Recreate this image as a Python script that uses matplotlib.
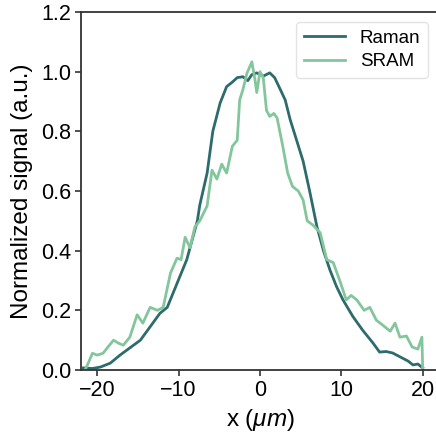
import matplotlib
matplotlib.use("Agg")
import matplotlib.pyplot as plt

plt.rcParams['font.family'] = ['Liberation Sans', 'DejaVu Sans']
plt.rcParams['mathtext.fontset'] = 'custom'
plt.rcParams['mathtext.it'] = 'Liberation Sans:italic'
plt.rcParams['mathtext.rm'] = 'Liberation Sans'

raman_x = [-21.7, -20.6, -19.6, -18.4, -17.2, -16.0, -14.7, -13.5, -12.3, -11.4,
           -10.2, -9.0, -7.7, -7.4, -6.5, -5.8, -4.9, -4.1, -3.4, -2.8, -2.1,
           -1.5, -1.0, -0.4, 0.4, 1.2, 1.8, 2.5, 3.1, 3.7, 4.5, 5.3, 6.1, 7.0,
           7.8, 8.6, 9.4, 10.2, 11.4, 12.6, 13.9, 14.7, 15.5, 16.3, 17.5, 18.2,
           18.8, 19.4, 20.0]
raman_y = [0.007, 0.005, 0.01, 0.023, 0.05, 0.074, 0.10, 0.145, 0.19, 0.21,
           0.29, 0.37, 0.50, 0.553, 0.66, 0.80, 0.895, 0.95, 0.965, 0.98, 0.983,
           0.97, 0.99, 0.996, 0.985, 0.996, 0.98, 0.94, 0.905, 0.84, 0.77, 0.70,
           0.60, 0.48, 0.40, 0.335, 0.28, 0.235, 0.18, 0.134, 0.09, 0.06, 0.062,
           0.057, 0.04, 0.03, 0.017, 0.02, 0.007]

sram_x = [-21.5, -21.0, -20.6, -20.0, -19.3, -18.6, -18.0, -17.4, -16.8, -16.0,
          -15.1, -14.4, -13.5, -12.6, -11.9, -11.0, -10.2, -9.7, -9.2, -8.6,
          -8.0, -7.4, -6.5, -5.9, -5.3, -4.7, -4.1, -3.4, -2.8, -2.5, -2.1, -1.6,
          -1.0, -0.6, -0.4, 0.0, 0.4, 0.8, 1.2, 1.7, 2.1, 2.8, 3.4, 4.0, 4.7,
          5.3, 5.8, 6.5, 7.4, 8.2, 9.0, 9.8, 10.6, 11.2, 11.9, 12.8, 13.5, 14.3,
          15.1, 16.0, 16.6, 17.2, 18.0, 18.7, 19.4, 19.9, 20.0]
sram_y = [0.0, 0.03, 0.056, 0.05, 0.056, 0.08, 0.10, 0.09, 0.083, 0.11,
          0.185, 0.157, 0.21, 0.20, 0.21, 0.325, 0.375, 0.37, 0.445, 0.41,
          0.48, 0.50, 0.55, 0.67, 0.64, 0.69, 0.66, 0.75, 0.77, 0.905, 0.94, 0.995,
          1.033, 0.97, 0.93, 1.0, 0.98, 0.87, 0.85, 0.86, 0.845, 0.75, 0.66, 0.615,
          0.60, 0.57, 0.50, 0.486, 0.46, 0.37, 0.36, 0.30, 0.235, 0.25, 0.235,
          0.20, 0.21, 0.167, 0.15, 0.13, 0.157, 0.11, 0.114, 0.077, 0.07, 0.11, 0.0]

xticks = [-20, -10, 0, 10, 20]
yticks = [0.0, 0.2, 0.4, 0.6, 0.8, 1.0, 1.2]

fig = plt.figure(figsize=(4.36, 4.37), dpi=100)
ax = fig.add_axes([81/436, 67/437, 358/436, 358/437])

ax.plot(raman_x, raman_y, color='#2d6b6c', lw=2.0, label='Raman')
ax.plot(sram_x, sram_y, color='#84c69c', lw=2.0, label='SRAM')

ax.set_xlim(-22, 22)
ax.set_ylim(0, 1.2)
ax.set_xticks(xticks)
ax.set_yticks(yticks)
ax.set_yticklabels([f"{v:.1f}" for v in yticks])
ax.tick_params(axis='both', labelsize=15.5, length=4, width=1.2, color='#333333', pad=3)
ax.tick_params(top=False, right=False)
for s in ['left', 'bottom', 'top']:
    ax.spines[s].set_color('#333333')
    ax.spines[s].set_linewidth(1.3)
ax.spines['right'].set_visible(False)

ax.set_xlabel(r'x ($\mu m$)', fontsize=17.5, labelpad=4.5)
ax.set_ylabel('Normalized signal (a.u.)', fontsize=17.5, labelpad=6)

leg = ax.legend(loc='upper right', bbox_to_anchor=(0.969, 0.972), borderaxespad=0,
                fontsize=13.5, handlelength=2.2, handletextpad=0.8, frameon=True,
                fancybox=True, labelspacing=0.35)
leg.get_frame().set_edgecolor('#dddddd')
leg.get_frame().set_linewidth(1.0)

fig.savefig('out.png', dpi=100)
